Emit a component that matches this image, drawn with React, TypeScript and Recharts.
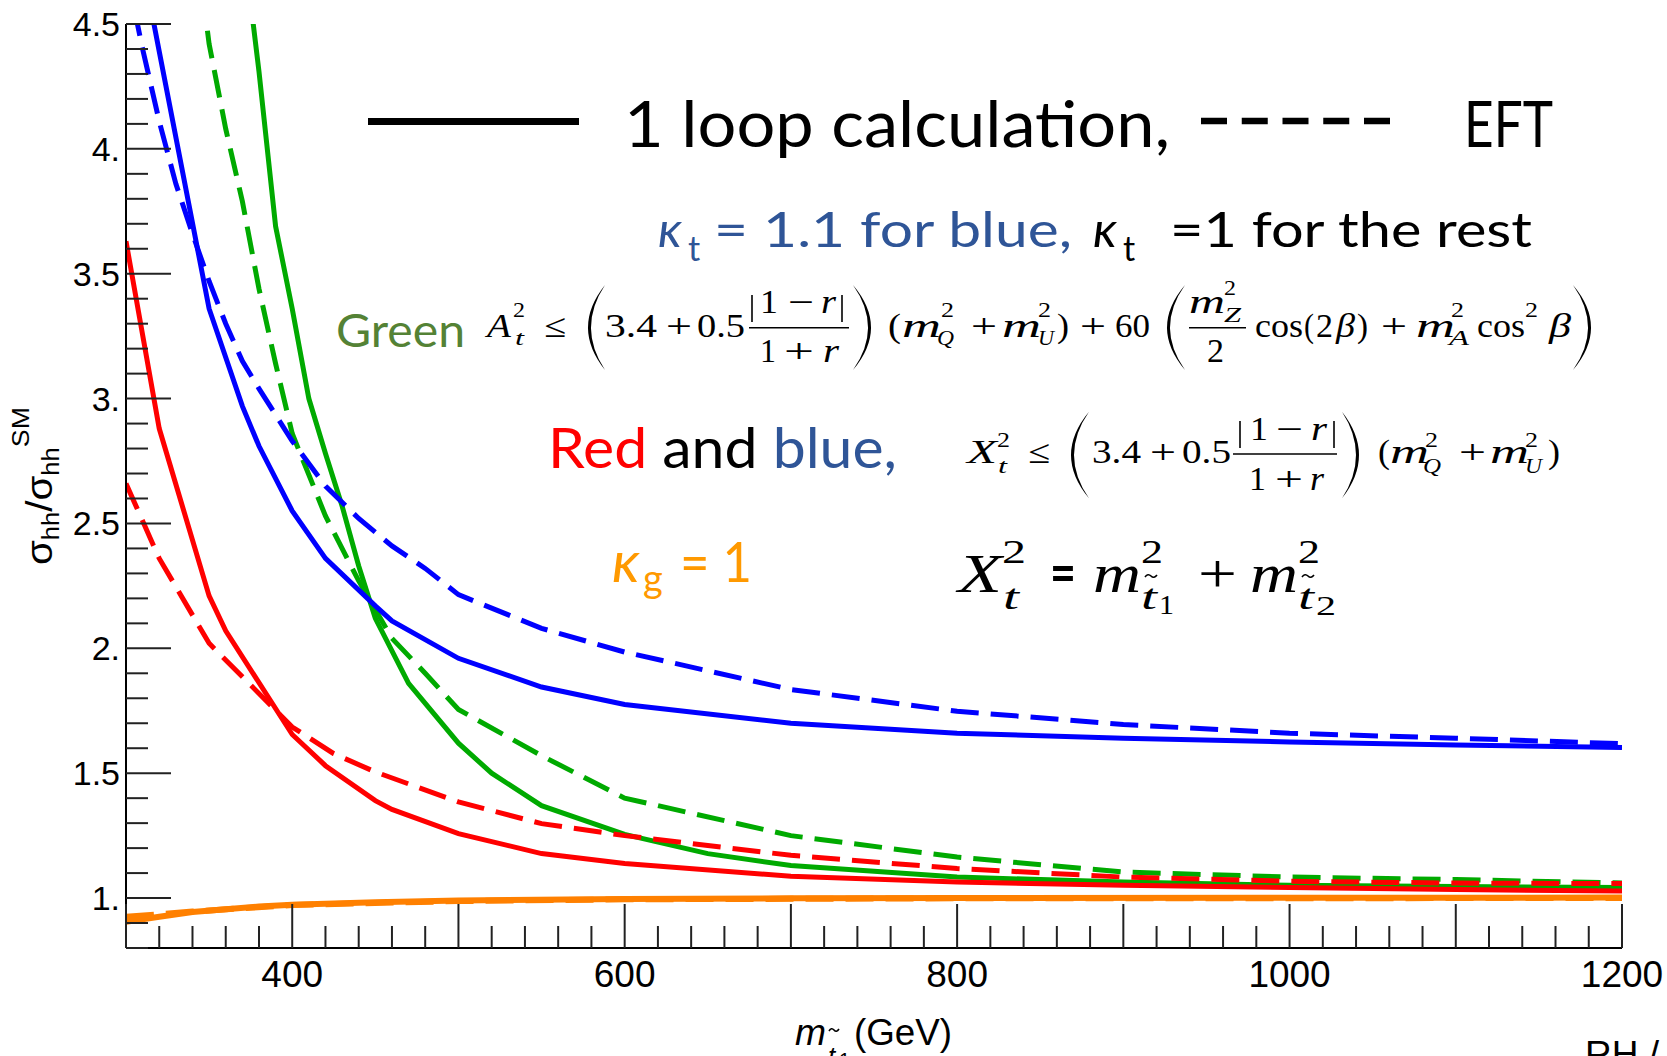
import React from 'react'
import { LineChart, Line, XAxis, YAxis } from 'recharts'

const W = 1667
const H = 1056

const SANS = "'Liberation Sans', Arial, Helvetica, sans-serif"
const CAL = "Lato, 'Noto Sans', sans-serif"
const SERIF = "'Liberation Serif', 'Times New Roman', serif"

// stop mass (GeV) vs sigma_hh / sigma_hh^SM
const blueSolidM = [300, 320, 350, 370, 380, 400, 420, 450, 460, 500, 550, 600, 700, 800, 900, 1000, 1100, 1200]
const blueSolidV = [5.08, 4.39, 3.36, 2.97, 2.81, 2.55, 2.36, 2.17, 2.11, 1.96, 1.845, 1.775, 1.7, 1.66, 1.64, 1.625, 1.613, 1.603]

const blueEftM = [300, 310, 320, 330, 340, 350, 360, 370, 380, 400, 420, 440, 460, 480, 500, 550, 600, 700, 800, 900, 1000, 1100, 1200]
const blueEftV = [4.72, 4.4, 4.11, 3.86, 3.66, 3.47, 3.3, 3.15, 3.04, 2.83, 2.65, 2.52, 2.41, 2.32, 2.215, 2.08, 1.985, 1.835, 1.748, 1.695, 1.66, 1.64, 1.618]

const greenSolidM = [370, 380, 390, 400, 410, 420, 430, 440, 450, 460, 470, 500, 520, 550, 600, 650, 700, 800, 900, 1000, 1100, 1200]
const greenSolidV = [4.86, 4.31, 3.69, 3.36, 3.0, 2.78, 2.57, 2.33, 2.12, 1.99, 1.86, 1.62, 1.5, 1.37, 1.255, 1.178, 1.13, 1.084, 1.064, 1.051, 1.046, 1.042]

const greenEftM = [340, 350, 360, 370, 380, 390, 400, 420, 440, 460, 480, 500, 550, 600, 700, 800, 900, 1000, 1100, 1200]
const greenEftV = [4.95, 4.42, 4.08, 3.79, 3.44, 3.14, 2.86, 2.53, 2.27, 2.04, 1.9, 1.755, 1.57, 1.4, 1.25, 1.164, 1.104, 1.084, 1.074, 1.06]

const redSolidM = [300, 320, 350, 360, 400, 420, 450, 460, 500, 550, 600, 700, 800, 900, 1000, 1100, 1200]
const redSolidV = [3.63, 2.88, 2.21, 2.07, 1.655, 1.53, 1.39, 1.355, 1.258, 1.178, 1.138, 1.087, 1.064, 1.051, 1.042, 1.034, 1.028]

const redEftM = [300, 320, 350, 400, 425, 450, 500, 550, 600, 700, 800, 900, 1000, 1100, 1200]
const redEftV = [2.66, 2.36, 2.02, 1.685, 1.578, 1.505, 1.385, 1.298, 1.25, 1.171, 1.118, 1.084, 1.067, 1.06, 1.058]

const orangeSolidM = [300, 320, 340, 360, 380, 400, 450, 500, 600, 700, 800, 1000, 1200]
const orangeSolidV = [0.905, 0.925, 0.944, 0.955, 0.966, 0.973, 0.983, 0.99, 0.996, 0.999, 1.0, 1.001, 1.002]

const orangeEftM = [300, 320, 340, 400, 500, 600, 800, 1200]
const orangeEftV = [0.925, 0.935, 0.946, 0.972, 0.988, 0.995, 0.999, 1.0]

const xTicks = Array.from({ length: 46 }, (_, i) => 300 + i * 20)
const yTicks = Array.from({ length: 38 }, (_, i) => Math.round((0.8 + i * 0.1) * 10) / 10)
const xLabels = [400, 600, 800, 1000, 1200]
const yLabels = [1, 1.5, 2, 2.5, 3, 3.5, 4, 4.5]

const pts = (m: number[], v: number[]) => m.map((x, i) => ({ m: x, v: v[i] }))

const TICK = '#222'
const isMajorY = (v: number) => Math.round(v * 10) % 5 === 0

function BottomTick(p: any) {
  const v = p.payload.value
  const len = v % 100 === 0 ? 44 : 22
  return (
    <g>
      <line x1={p.x} x2={p.x} y1={p.y} y2={p.y - len} stroke={TICK} strokeWidth={2} />
      {xLabels.includes(v) && (
        <text x={p.x} y={p.y + 39} textAnchor="middle" fontFamily={SANS} fontSize={37} fill="#000">{v}</text>
      )}
    </g>
  )
}

function TopTick(p: any) {
  const v = p.payload.value
  const len = v % 100 === 0 ? 44 : 22
  return <line x1={p.x} x2={p.x} y1={p.y} y2={p.y + len} stroke={TICK} strokeWidth={2} />
}

function LeftTick(p: any) {
  const v = p.payload.value
  const len = isMajorY(v) ? 45 : 22
  const lab = yLabels.includes(v) ? (Number.isInteger(v) ? `${v}.` : `${v}`) : null
  return (
    <g>
      <line x1={p.x} x2={p.x + len} y1={p.y} y2={p.y} stroke={TICK} strokeWidth={2} />
      {lab && (
        <text x={p.x - 6} y={p.y + 12} textAnchor="end" fontFamily={SANS} fontSize={34} fill="#000">{lab}</text>
      )}
    </g>
  )
}

function RightTick(p: any) {
  const v = p.payload.value
  const len = isMajorY(v) ? 45 : 22
  return <line x1={p.x} x2={p.x - len} y1={p.y} y2={p.y} stroke={TICK} strokeWidth={2} />
}

// math text piece
function M({ x, y, s = 33, w, i, f = SERIF, b, c = '#000', children }: any) {
  return (
    <text
      x={x}
      y={y}
      fontSize={s}
      fontFamily={f}
      fontStyle={i ? 'italic' : 'normal'}
      fontWeight={b ? 'bold' : 'normal'}
      fill={c}
      textLength={w}
      lengthAdjust={w ? 'spacingAndGlyphs' : undefined}
    >
      {children}
    </text>
  )
}

function Paren({ x0, x1, y0, y1, right }: any) {
  const ym = (y0 + y1) / 2
  const t = 3
  let d
  if (!right) {
    const e = x1
    const pk = x0
    d = `M${e},${y0} Q${2 * pk - e},${ym} ${e},${y1} Q${2 * (pk + t) - e},${ym} ${e},${y0} Z`
  } else {
    const e = x0
    const pk = x1
    d = `M${e},${y0} Q${2 * pk - e},${ym} ${e},${y1} Q${2 * (pk - t) - e},${ym} ${e},${y0} Z`
  }
  return <path d={d} fill="#000" />
}

function Tilde({ cx, cy, w = 6 }: any) {
  return (
    <path
      d={`M${cx - w},${cy + 1} Q${cx - w / 2},${cy - 3} ${cx},${cy} T${cx + w},${cy - 1}`}
      stroke="#000"
      strokeWidth={1.6}
      fill="none"
    />
  )
}

function Bar({ x1, x2, y }: any) {
  return <line x1={x1} x2={x2} y1={y} y2={y} stroke="#000" strokeWidth={1.6} />
}

function VBar({ x, y1, y2 }: any) {
  return <line x1={x} x2={x} y1={y1} y2={y2} stroke="#000" strokeWidth={1.6} />
}

function Annotations() {
  const B1 = 336.7
  const B2 = 463.3
  const B3 = 591.7
  return (
    <svg width={W} height={H} style={{ position: 'absolute', left: 0, top: 0, pointerEvents: 'none' }}>
      {/* legend */}
      <line x1={368} x2={579} y1={121.5} y2={121.5} stroke="#000" strokeWidth={7} />
      <M x={624} y={147} s={64} f={CAL} w={546}>1 loop calculation,</M>
      <line x1={1201} x2={1390} y1={121} y2={121} stroke="#000" strokeWidth={6.5} strokeDasharray="26 14.75" />
      <M x={1464} y={147} s={64} f={CAL} w={89}>EFT</M>

      {/* kappa_t line */}
      <M x={658} y={246.7} s={50} f={CAL} i c="#2f5597">κ</M>
      <M x={688} y={261} s={34} f={CAL} c="#2f5597">t</M>
      <M x={714} y={246.7} s={49} f={CAL} w={358} c="#2f5597">= 1.1 for blue,</M>
      <M x={1093} y={246.7} s={50} f={CAL} i>κ</M>
      <M x={1123} y={261} s={34} f={CAL}>t</M>
      <M x={1170} y={246.7} s={49} f={CAL} w={362}>=1 for the rest</M>

      {/* Green constraint */}
      <M x={336} y={346.5} s={46} f={CAL} w={129} c="#548235">Green</M>
      <M x={487} y={B1} w={24} i>A</M>
      <M x={513} y={317} s={22} w={12}>2</M>
      <M x={515} y={345} s={22} w={9} i>t</M>
      <M x={544} y={B1} w={22}>≤</M>
      <Paren x0={588} x1={605} y0={285} y1={370} />
      <M x={605} y={B1} w={52}>3.4</M>
      <M x={666} y={B1} w={26}>+</M>
      <M x={697} y={B1} w={48}>0.5</M>
      <VBar x={752} y1={295} y2={322} />
      <M x={760} y={313.3} w={18}>1</M>
      <M x={788} y={313.3} w={26}>−</M>
      <M x={821} y={313.3} w={15} i>r</M>
      <VBar x={842} y1={295} y2={322} />
      <Bar x1={749} x2={849} y={327.7} />
      <M x={760} y={361.7} w={16}>1</M>
      <M x={784} y={361.7} w={30}>+</M>
      <M x={823} y={361.7} w={16} i>r</M>
      <Paren x0={853} x1={871} y0={285} y1={370} right />
      <M x={888} y={B1} w={13}>(</M>
      <M x={902} y={B1} w={39} i>m</M>
      <M x={941} y={317} s={22} w={13}>2</M>
      <M x={937} y={345} s={22} w={17} i>Q</M>
      <M x={971} y={B1} w={26}>+</M>
      <M x={1002} y={B1} w={39} i>m</M>
      <M x={1038} y={317} s={22} w={13}>2</M>
      <M x={1038} y={345} s={22} w={16} i>U</M>
      <M x={1057} y={B1} w={12}>)</M>
      <M x={1080} y={B1} w={26}>+</M>
      <M x={1115} y={B1} w={35}>60</M>
      <Paren x0={1167} x1={1185} y0={285} y1={370} />
      <M x={1189} y={313} w={36} i>m</M>
      <M x={1224} y={295} s={22} w={12}>2</M>
      <M x={1224} y={322} s={22} w={17} i>Z</M>
      <Bar x1={1189} x2={1246} y={327.7} />
      <M x={1207} y={361.7} w={17}>2</M>
      <M x={1255} y={B1} w={48}>cos</M>
      <M x={1304} y={B1} w={10}>(</M>
      <M x={1316} y={B1} w={17}>2</M>
      <M x={1336} y={B1} w={19} i>β</M>
      <M x={1357} y={B1} w={11}>)</M>
      <M x={1381} y={B1} w={26}>+</M>
      <M x={1416} y={B1} w={39} i>m</M>
      <M x={1451} y={317} s={22} w={13}>2</M>
      <M x={1449} y={345} s={22} w={20} i>A</M>
      <M x={1477} y={B1} w={48}>cos</M>
      <M x={1525} y={317} s={22} w={13}>2</M>
      <M x={1549} y={B1} w={22} i>β</M>
      <Paren x0={1573} x1={1591} y0={285} y1={370} right />

      {/* Red and blue constraint */}
      <text x={548} y={468} fontSize={57} fontFamily={CAL} textLength={349} lengthAdjust="spacingAndGlyphs">
        <tspan fill="#ff0000">Red</tspan>
        <tspan fill="#000"> and </tspan>
        <tspan fill="#2f5597">blue,</tspan>
      </text>
      <M x={967} y={B2} w={30} i>X</M>
      <M x={997} y={446.5} s={22} w={13}>2</M>
      <M x={998} y={473} s={22} w={9} i>t</M>
      <M x={1028} y={B2} w={22}>≤</M>
      <Paren x0={1071} x1={1089} y0={411.7} y1={498.3} />
      <M x={1092} y={B2} w={49}>3.4</M>
      <M x={1150} y={B2} w={26}>+</M>
      <M x={1182} y={B2} w={49}>0.5</M>
      <VBar x={1240} y1={421} y2={448} />
      <M x={1250} y={440} w={18}>1</M>
      <M x={1276} y={440} w={27}>−</M>
      <M x={1311} y={440} w={16} i>r</M>
      <VBar x={1334} y1={421} y2={448} />
      <Bar x1={1233} x2={1337} y={454} />
      <M x={1249} y={490} w={17}>1</M>
      <M x={1275} y={490} w={28}>+</M>
      <M x={1310} y={490} w={14} i>r</M>
      <Paren x0={1342} x1={1359} y0={411.7} y1={498.3} right />
      <M x={1378} y={B2} w={12}>(</M>
      <M x={1390} y={B2} w={39} i>m</M>
      <M x={1425} y={446.5} s={22} w={13}>2</M>
      <M x={1423} y={473} s={22} w={18} i>Q</M>
      <M x={1459} y={B2} w={27}>+</M>
      <M x={1490} y={B2} w={39} i>m</M>
      <M x={1525} y={446.5} s={22} w={13}>2</M>
      <M x={1525} y={473} s={22} w={17} i>U</M>
      <M x={1548} y={B2} w={12}>)</M>

      {/* kappa_g */}
      <M x={612} y={581.7} s={58} f={CAL} i c="#ff9900">κ</M>
      <M x={643} y={592} s={38} f={CAL} c="#ff9900">g</M>
      <M x={680} y={581.7} s={56} f={CAL} w={72} c="#ff9900">= 1</M>

      {/* X_t^2 definition */}
      <M x={958} y={B3} s={55} w={44} i>X</M>
      <M x={1002} y={563} s={34} w={24}>2</M>
      <M x={1003} y={609} s={36} w={16} i>t</M>
      <M x={1050} y={B3} s={55} f={CAL} b w={26}>=</M>
      <M x={1093} y={B3} s={55} w={48} i>m</M>
      <M x={1141} y={563} s={34} w={22}>2</M>
      <M x={1141} y={609} s={36} w={16} i>t</M>
      <Tilde cx={1151} cy={576} />
      <M x={1159} y={614} s={28} w={15}>1</M>
      <M x={1198} y={B3} s={55} w={39}>+</M>
      <M x={1250} y={B3} s={55} w={48} i>m</M>
      <M x={1298} y={563} s={34} w={22}>2</M>
      <M x={1298} y={609} s={36} w={16} i>t</M>
      <Tilde cx={1308} cy={576} />
      <M x={1316} y={615} s={28} w={20}>2</M>

      {/* axis titles */}
      <text transform="rotate(-90)" x={-565} y={51.7} fontFamily={SANS} fill="#000" textLength={158} lengthAdjust="spacingAndGlyphs">
        <tspan fontSize={36}>σ</tspan>
        <tspan fontSize={23} dy={7}>hh</tspan>
        <tspan fontSize={36} dy={-7}>/σ</tspan>
        <tspan fontSize={23} dy={7}>hh</tspan>
        <tspan fontSize={24} dy={-30}>SM</tspan>
      </text>
      <M x={795} y={1045} s={37} f={SANS} i w={31}>m</M>
      <M x={828} y={1065} s={26} f={SANS} i>t</M>
      <Tilde cx={834} cy={1030} w={5} />
      <M x={839} y={1067} s={20} f={SANS}>1</M>
      <M x={854} y={1045} s={37} f={SANS} w={98}>(GeV)</M>
      <M x={1585} y={1067} s={37} f={SANS}>RH /</M>
    </svg>
  )
}

export default function App() {
  const line = (m: number[], v: number[], color: string, dashed: boolean, key: string, sw = 5) => (
    <Line
      key={key}
      data={pts(m, v)}
      dataKey="v"
      type="linear"
      stroke={color}
      strokeWidth={sw}
      strokeDasharray={dashed ? '28 12' : undefined}
      dot={false}
      activeDot={false}
      isAnimationActive={false}
    />
  )
  return (
    <div style={{ position: 'absolute', left: 0, top: 0, width: W, height: H, background: '#fff', overflow: 'hidden' }}>
      <LineChart width={W} height={H} margin={{ top: 24, right: 45, bottom: 48, left: 26 }}>
        <XAxis
          dataKey="m"
          type="number"
          domain={[300, 1200]}
          ticks={xTicks}
          interval={0}
          tickSize={0}
          tickMargin={0}
          tickLine={false}
          height={60}
          axisLine={{ stroke: '#000', strokeWidth: 2 }}
          tick={(p: any) => <BottomTick {...p} />}
          allowDataOverflow
        />
        <XAxis
          xAxisId="top"
          orientation="top"
          dataKey="m"
          type="number"
          domain={[300, 1200]}
          ticks={xTicks}
          interval={0}
          tickSize={0}
          tickMargin={0}
          tickLine={false}
          height={0}
          axisLine={{ stroke: '#000', strokeWidth: 2 }}
          tick={(p: any) => <TopTick {...p} />}
          allowDataOverflow
        />
        <YAxis
          type="number"
          domain={[0.8, 4.5]}
          ticks={yTicks}
          interval={0}
          tickSize={0}
          tickMargin={0}
          tickLine={false}
          width={100}
          axisLine={{ stroke: '#000', strokeWidth: 2 }}
          tick={(p: any) => <LeftTick {...p} />}
          allowDataOverflow
        />
        <YAxis
          yAxisId="right"
          orientation="right"
          type="number"
          domain={[0.8, 4.5]}
          ticks={yTicks}
          interval={0}
          tickSize={0}
          tickMargin={0}
          tickLine={false}
          width={0}
          axisLine={{ stroke: '#000', strokeWidth: 2 }}
          tick={(p: any) => <RightTick {...p} />}
          allowDataOverflow
        />
        {line(greenSolidM, greenSolidV, '#00aa00', false, 'gs')}
        {line(greenEftM, greenEftV, '#00aa00', true, 'ge')}
        {line(redSolidM, redSolidV, '#ff0000', false, 'rs')}
        {line(redEftM, redEftV, '#ff0000', true, 're')}
        {line(blueSolidM, blueSolidV, '#0000ff', false, 'bs')}
        {line(blueEftM, blueEftV, '#0000ff', true, 'be')}
        {line(orangeSolidM, orangeSolidV, '#ff8000', false, 'os', 6)}
        {line(orangeEftM, orangeEftV, '#ff8000', true, 'oe', 6)}
      </LineChart>
      <Annotations />
    </div>
  )
}
